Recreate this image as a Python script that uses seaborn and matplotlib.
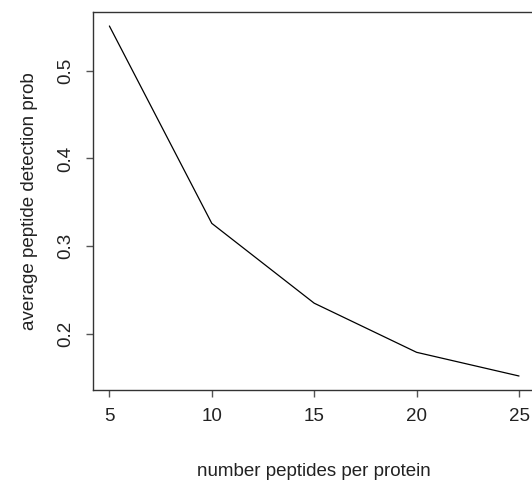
import matplotlib
matplotlib.use("Agg")
import matplotlib.pyplot as plt
import seaborn as sns
import pandas as pd

peptides = [5, 10, 15, 20, 25]
avg_prob = [0.551, 0.326, 0.235, 0.179, 0.152]
x_ticks = [5, 10, 15, 20, 25]
y_ticks = [0.2, 0.3, 0.4, 0.5]

sns.set_theme(style="ticks")
plt.rcParams['font.family'] = ['Liberation Sans', 'DejaVu Sans']

df = pd.DataFrame({"n": peptides, "p": avg_prob})

fig = plt.figure(figsize=(5.32, 4.83), dpi=100)
ax = fig.add_axes([93 / 532, (483 - 390) / 483, (535.4 - 93) / 532, (390 - 12) / 483])
sns.lineplot(data=df, x="n", y="p", ax=ax, color="black", linewidth=0.9)

r = max(avg_prob) - min(avg_prob)
ax.set_xlim(4.2, 25.8)
ax.set_ylim(min(avg_prob) - 0.04 * r, max(avg_prob) + 0.04 * r)
ax.set_xticks(x_ticks)
ax.set_xticklabels([str(v) for v in x_ticks])
ax.set_yticks(y_ticks)
ax.set_yticklabels([f"{v:.1f}" for v in y_ticks], rotation=90, va="center")

for s in ax.spines.values():
    s.set_color("#333333")
    s.set_linewidth(1.0)
ax.tick_params(axis="both", length=5.2, width=1.0, color="#555555",
               labelsize=13.5, labelcolor="#222222", pad=8)

ax.set_xlabel("number peptides per protein", fontsize=13.5, color="#222222", labelpad=27)
ax.set_ylabel("average peptide detection prob", fontsize=13.5, color="#222222", labelpad=14)

fig.savefig("out.png", dpi=100)
